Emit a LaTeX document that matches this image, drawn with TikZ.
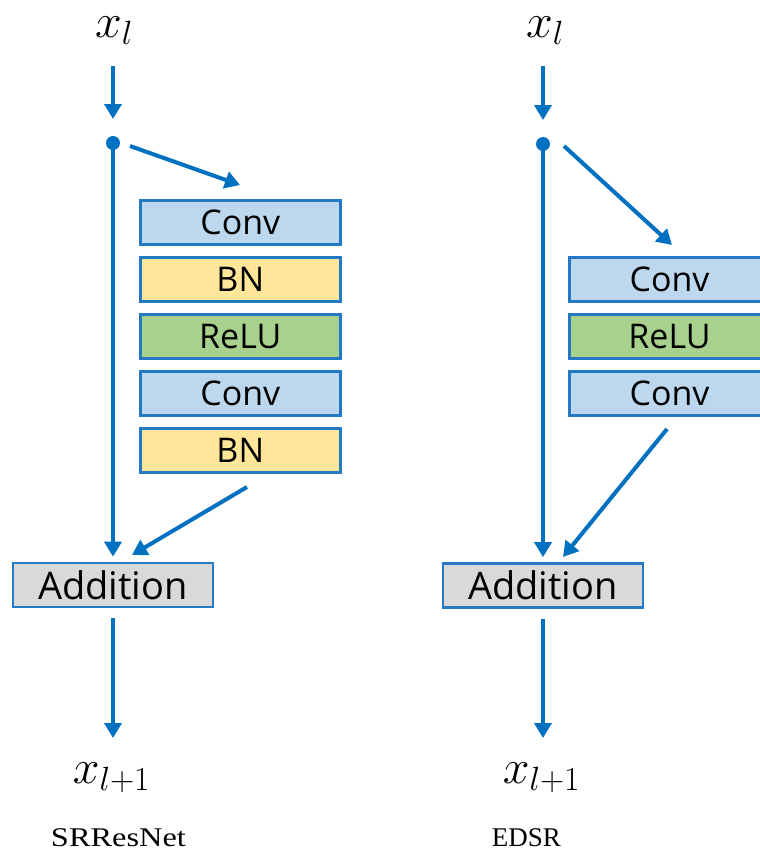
\RequirePackage{fix-cm}
\documentclass[tikz,border=0pt]{standalone}
\usepackage{fontspec}
\setmainfont{Liberation Serif}
\newfontfamily\boxfont{Open Sans}
\usetikzlibrary{arrows.meta,calc}

\definecolor{flow}{HTML}{0070C0}
\definecolor{edge}{HTML}{2479C4}
\definecolor{convfill}{HTML}{BDD7EE}
\definecolor{bnfill}{HTML}{FFE699}
\definecolor{relufill}{HTML}{A9D18E}
\definecolor{addfill}{HTML}{D9D9D9}

\tikzset{
  layer/.style={draw=edge, line width=2.7pt, minimum width=200pt,
    minimum height=44pt, inner sep=0pt,
    font=\boxfont\fontsize{34}{40}\selectfont},
  convbox/.style={layer, fill=convfill},
  bnbox/.style={layer, fill=bnfill},
  relubox/.style={layer, fill=relufill},
  addbox/.style={layer, fill=addfill, font=\boxfont\fontsize{38}{44}\selectfont},
  flowarrow/.style={draw=flow, line width=4pt,
    -{Triangle[width=17pt,length=15pt]}},
  tap/.style={circle, fill=flow, minimum size=14pt, inner sep=0pt},
  sym/.style={anchor=base, font=\fontsize{48}{56}\selectfont},
  caption/.style={anchor=base, font=\fontsize{27}{32}\selectfont},
}

\begin{document}
\begin{tikzpicture}[x=1pt,y=-1pt]
\clip (0,0) rectangle (760,852);
\useasboundingbox (0,0) rectangle (760,852);

% ---------- SRResNet block ----------
\node[sym] (xinL) at (114,37) {$x_l$};
\coordinate (topL) at (113,66);
\node[tap] (dotL) at (113,143) {};

\node[convbox] (convL1) at (240.3,222.3) {Conv};
\node[bnbox]   (bnL1)   at (240.3,279.3) {BN};
\node[relubox] (reluL)  at (240.3,336.7) {ReLU};
\node[convbox] (convL2) at (240.3,393.7) {Conv};
\node[bnbox]   (bnL2)   at (240.3,450.3) {BN};

\node[addbox] (addL) at (113,585) {Addition};
\coordinate (endL) at (113,738);
\node[sym] (xoutL) at (111.5,783) {$x_{l+1}$};
\node[caption] (capL) at (118.5,846.5) {\scalebox{1.2}[1]{SRResNet}};

\coordinate (tapL) at (130,146);
\coordinate (inL) at (240,185);
\coordinate (outL) at (247,487);
\coordinate (joinL) at (132,555);

\draw[flowarrow, shorten >=24pt] (topL) -- (dotL.center);
\draw[flowarrow, shorten >=5pt] (dotL.center) -- (addL.north);
\draw[flowarrow] (tapL) -- (inL);
\draw[flowarrow] (outL) -- (joinL);
\draw[flowarrow, shorten <=10pt] (addL.south) -- (endL);

% ---------- EDSR block ----------
\node[sym] (xinR) at (545,37) {$x_l$};
\coordinate (topR) at (543,66);
\node[tap] (dotR) at (543,144) {};

\node[convbox] (convR1) at (669.5,279.3) {Conv};
\node[relubox] (reluR)  at (669.5,336.3) {ReLU};
\node[convbox] (convR2) at (669.5,393.5) {Conv};

\node[addbox] (addR) at (543,585.5) {Addition};
\coordinate (endR) at (543,738);
\node[sym] (xoutR) at (541.5,783) {$x_{l+1}$};
\node[caption] (capR) at (526.5,846.5) {EDSR};

\coordinate (tapR) at (564,146);
\coordinate (inR) at (672,245);
\coordinate (outR) at (667,429);
\coordinate (joinR) at (563,557);

\draw[flowarrow, shorten >=24pt] (topR) -- (dotR.center);
\draw[flowarrow, shorten >=5pt] (dotR.center) -- (addR.north);
\draw[flowarrow] (tapR) -- (inR);
\draw[flowarrow] (outR) -- (joinR);
\draw[flowarrow, shorten <=10pt] (addR.south) -- (endR);
\end{tikzpicture}
\end{document}
